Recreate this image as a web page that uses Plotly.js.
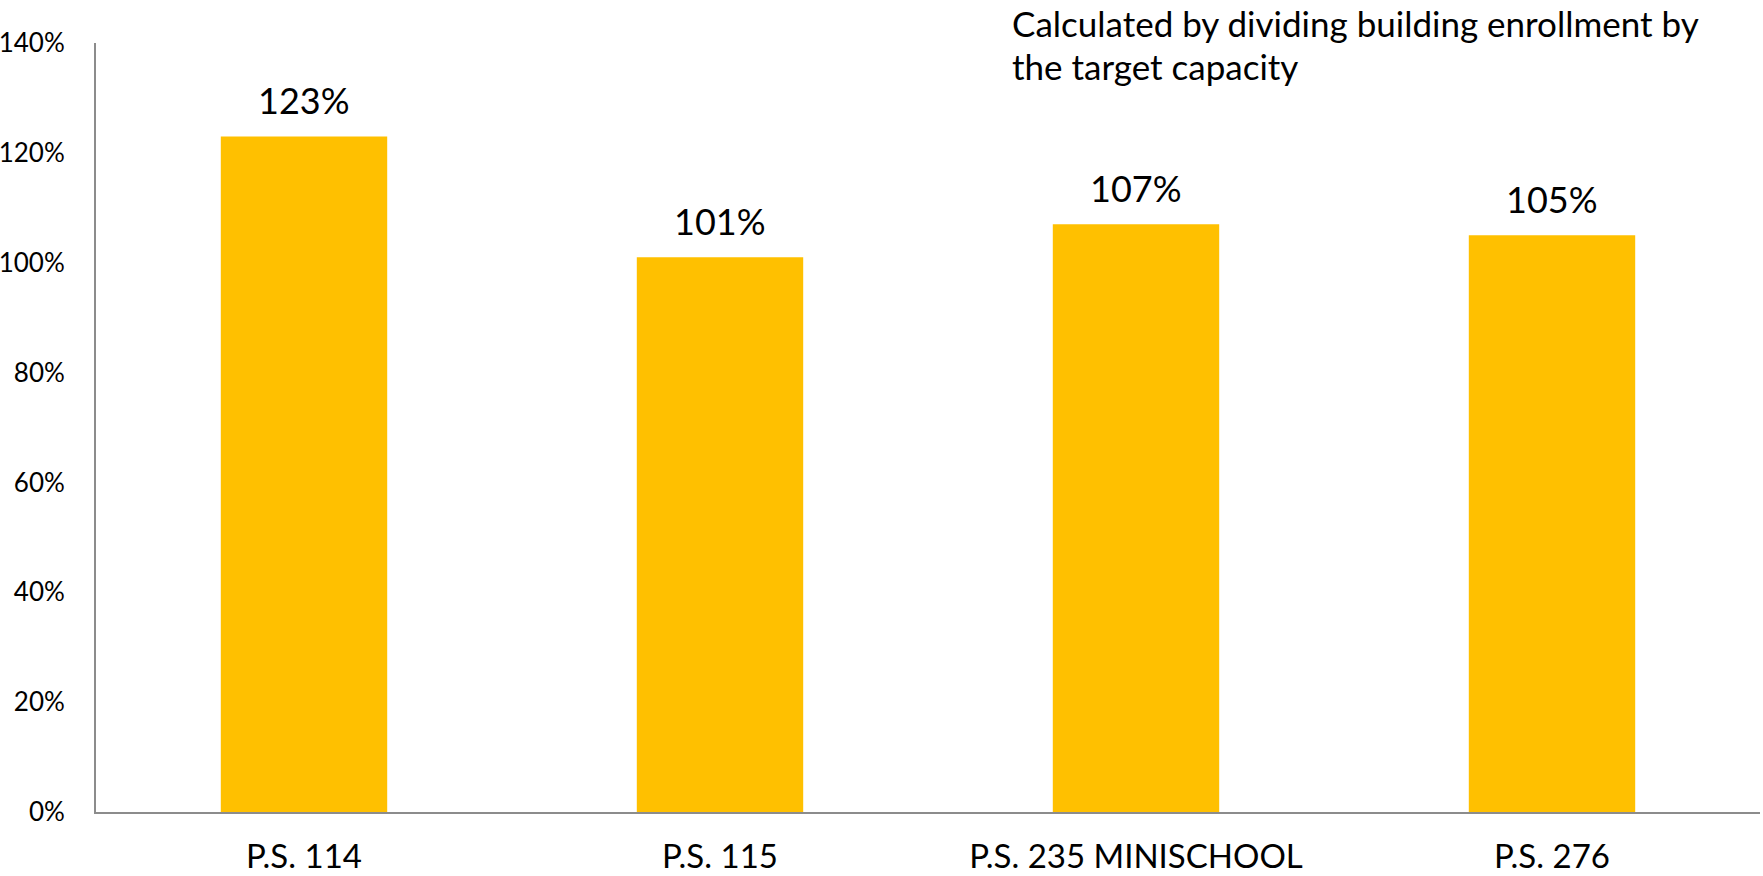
<!DOCTYPE html>
<html>
<head>
<meta charset="utf-8">
<script src="https://cdn.plot.ly/plotly-3.0.1.min.js"></script>
<style>html,body{margin:0;padding:0;background:#fff;}#chart{width:1763px;height:876px;}</style>
</head>
<body>
<div id="chart"></div>
<script>
const categories = ["P.S. 114", "P.S. 115", "P.S. 235 MINISCHOOL", "P.S. 276"];
const utilization = [1.23, 1.01, 1.07, 1.05];
const valueLabels = ["123%", "101%", "107%", "105%"];
const noteLines = ["Calculated by dividing building enrollment by", "the target capacity"];

const FONT = "Lato, 'Open Sans', sans-serif";

const trace = {
  type: "bar",
  x: categories,
  y: utilization,
  marker: {color: "#FFC000"},
  hoverinfo: "skip"
};

const labelAnnotations = categories.map((c, i) => ({
  x: c, y: utilization[i], xref: "x", yref: "y",
  text: valueLabels[i], showarrow: false,
  xanchor: "center", yanchor: "bottom", yshift: 12,
  font: {family: FONT, size: 36, color: "#000"}
}));

const noteAnnotations = noteLines.map((t, i) => ({
  xref: "paper", yref: "paper", x: 0.549, y: 1.056,
  yshift: -43 * i,
  xanchor: "left", yanchor: "top", align: "left",
  text: t, showarrow: false,
  font: {family: FONT, size: 35, color: "#000"}
}));

const layout = {
  width: 1763, height: 876,
  margin: {l: 96, r: 3, t: 43, b: 64, pad: 0},
  paper_bgcolor: "#fff", plot_bgcolor: "#fff",
  showlegend: false,
  bargap: 0.6,
  font: {family: FONT, color: "#000"},
  xaxis: {
    type: "category",
    showgrid: false, zeroline: false,
    showline: true, linecolor: "#8c8c8c", linewidth: 2,
    ticks: "", ticklabelstandoff: 14,
    tickfont: {family: FONT, size: 33, color: "#000"}
  },
  yaxis: {
    range: [0, 1.4], dtick: 0.2, tick0: 0,
    tickformat: ".0%",
    showgrid: false, zeroline: false,
    showline: true, linecolor: "#8c8c8c", linewidth: 2,
    ticks: "", ticklabelstandoff: 24,
    tickfont: {family: FONT, size: 26, color: "#000"}
  },
  annotations: labelAnnotations.concat(noteAnnotations)
};

Plotly.newPlot("chart", [trace], layout, {displayModeBar: false, staticPlot: true});
</script>
</body>
</html>
